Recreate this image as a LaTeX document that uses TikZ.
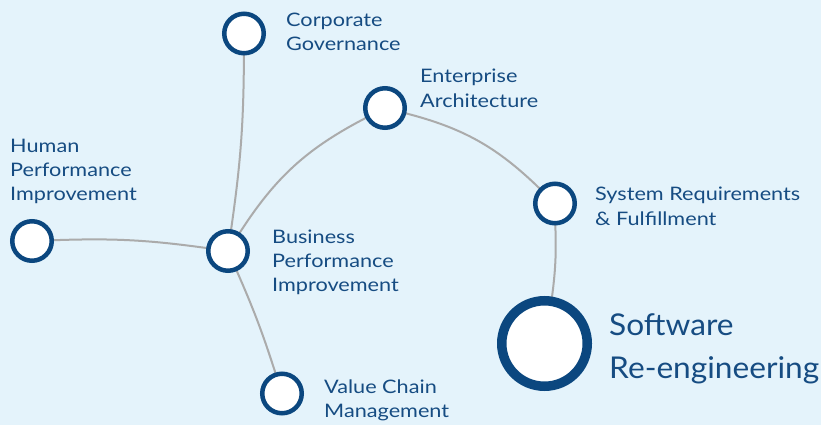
\documentclass[tikz,border=0pt]{standalone}
\usepackage{fontspec}
\setmainfont{Lato}
\newfontfamily\smallfont[FakeStretch=1.165]{Lato}
\newfontfamily\bigfont[FakeStretch=1.055]{Lato}
\usetikzlibrary{backgrounds}
\definecolor{bgc}{HTML}{E4F3FB}
\definecolor{ringc}{HTML}{0B477F}
\definecolor{txtc}{HTML}{164C82}
\definecolor{linkc}{HTML}{ABABAB}
\begin{document}
\begin{tikzpicture}[x=1pt,y=-1pt,
  hub/.style={circle,draw=ringc,fill=white,line width=4.5pt,minimum size=39.5pt,inner sep=0pt,outer sep=0pt},
  bighub/.style={hub,line width=9.5pt,minimum size=85.5pt},
  lbl/.style={anchor=base west,inner sep=0pt,text=txtc,font=\smallfont\fontsize{18.6}{24.3}\selectfont},
  biglbl/.style={lbl,font=\bigfont\fontsize{30}{43}\selectfont},
  link/.style={draw=linkc,line width=2pt}]
\useasboundingbox (0,0) rectangle (821,425);
\node[hub] (cg) at (244,33.5) {};
\node[hub] (ea) at (385,108) {};
\node[hub] (hpi) at (32,241) {};
\node[hub] (bpi) at (228,251) {};
\node[hub] (sr) at (555,203.5) {};
\node[hub] (vc) at (282,393.5) {};
\node[bighub] (sw) at (544.5,343.5) {};
\node[lbl] (cgl) at (286,26.7) {\begin{tabular}[t]{@{}l@{}}Corporate\\Governance\end{tabular}};
\node[lbl] (eal) at (420,83) {\begin{tabular}[t]{@{}l@{}}Enterprise\\Architecture\end{tabular}};
\node[lbl] (hpil) at (10,152.3) {\begin{tabular}[t]{@{}l@{}}Human\\Performance\\Improvement\end{tabular}};
\node[lbl] (bpil) at (272,243.3) {\begin{tabular}[t]{@{}l@{}}Business\\Performance\\Improvement\end{tabular}};
\node[lbl] (srl) at (595,200.7) {\begin{tabular}[t]{@{}l@{}}System Requirements\\\& Fulfillment\end{tabular}};
\node[lbl] (vcl) at (324,393.3) {\begin{tabular}[t]{@{}l@{}}Value Chain\\Management\end{tabular}};
\node[biglbl] (swl) at (609,335) {\begin{tabular}[t]{@{}l@{}}Software\\Re-engineering\end{tabular}};
\begin{pgfonlayer}{background}
\fill[bgc] (0,0) rectangle (821,425);
\draw[link] (cg) to[bend left=4] (bpi);
\draw[link] (hpi) to[bend left=5] (bpi);
\draw[link] (bpi) to[bend left=15] (ea);
\draw[link] (ea) to[bend left=15] (sr);
\draw[link] (sr) to[bend left=5] (sw);
\draw[link] (bpi) to[bend left=3] (vc);
\end{pgfonlayer}
\end{tikzpicture}
\end{document}
